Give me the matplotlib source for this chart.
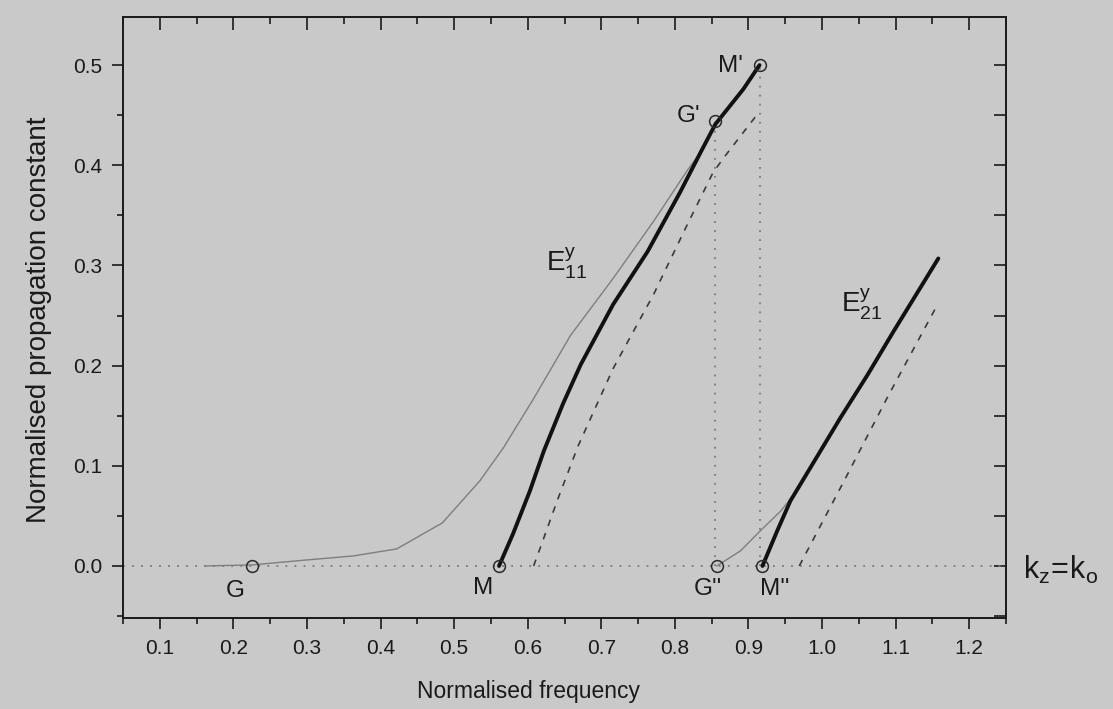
import matplotlib
matplotlib.use("Agg")
import matplotlib.pyplot as plt
from matplotlib.ticker import MultipleLocator

plt.rcParams['font.family'] = ['Liberation Sans', 'DejaVu Sans']
plt.rcParams['mathtext.fontset'] = 'custom'
plt.rcParams['mathtext.rm'] = 'Liberation Sans'
plt.rcParams['mathtext.it'] = 'Liberation Sans'

# E11 branch, thin grey curve (G -> G')
grey11_x = [0.161, 0.225, 0.300, 0.363, 0.422, 0.484, 0.535, 0.567, 0.608, 0.658, 0.716, 0.771, 0.817, 0.835]
grey11_y = [0.000, 0.001, 0.006, 0.010, 0.017, 0.043, 0.085, 0.118, 0.167, 0.230, 0.287, 0.344, 0.395, 0.413]

# E11 branch, thick curve (M -> M')
thick11_x = [0.561, 0.580, 0.603, 0.622, 0.648, 0.672, 0.716, 0.763, 0.807, 0.835, 0.855, 0.893, 0.915]
thick11_y = [0.000, 0.032, 0.075, 0.115, 0.162, 0.201, 0.261, 0.314, 0.373, 0.413, 0.441, 0.476, 0.500]

# E11 branch, dashed curve
dash11_x = [0.608, 0.617, 0.640, 0.668, 0.716, 0.771, 0.817, 0.852, 0.869, 0.909]
dash11_y = [0.000, 0.018, 0.065, 0.119, 0.197, 0.271, 0.341, 0.393, 0.410, 0.448]

# E21 branch
grey21_x = [0.857, 0.889, 0.916, 0.944, 0.957]
grey21_y = [0.000, 0.015, 0.035, 0.055, 0.067]

thick21_x = [0.919, 0.939, 0.957, 0.998, 1.025, 1.062, 1.097, 1.158]
thick21_y = [0.000, 0.035, 0.065, 0.115, 0.148, 0.191, 0.234, 0.307]

dash21_x = [0.969, 1.030, 1.090, 1.154]
dash21_y = [0.000, 0.085, 0.170, 0.257]

# marked points and their labels
pt_names = ['G', 'M', "G'", "M'", "G''", "M''"]
pt_x = [0.225, 0.561, 0.855, 0.915, 0.857, 0.919]
pt_y = [0.000, 0.000, 0.444, 0.500, 0.000, 0.000]
lab_x = [0.202, 0.539, 0.818, 0.875, 0.845, 0.936]
lab_y = [-0.025, -0.022, 0.449, 0.499, -0.023, -0.023]

x_ticks = [0.1, 0.2, 0.3, 0.4, 0.5, 0.6, 0.7, 0.8, 0.9, 1.0, 1.1, 1.2]
x_labels = ['0.1', '0.2', '0.3', '0.4', '0.5', '0.6', '0.7', '0.8', '0.9', '1.0', '1.1', '1.2']
y_ticks = [0.0, 0.1, 0.2, 0.3, 0.4, 0.5]
y_labels = ['0.0', '0.1', '0.2', '0.3', '0.4', '0.5']

bg = '#c9c9c9'
ink = '#1a1a1a'
fig = plt.figure(figsize=(11.13, 7.09), dpi=100, facecolor=bg)
ax = fig.add_axes([0.1105, 0.1283, 0.7934, 0.8477])
ax.set_facecolor(bg)

# kz = k0 line and cut-off verticals
dots = dict(color='#7a7a7a', lw=1.3, ls=(0, (1, 4)), zorder=1)
ax.axhline(0.0, **dots)
ax.plot([pt_x[2], pt_x[2]], [0.0, pt_y[2]], **dots)
ax.plot([pt_x[3], pt_x[3]], [0.0, pt_y[3]], **dots)

ax.plot(grey11_x, grey11_y, color='#7e7e7e', lw=1.0, zorder=2)
ax.plot(grey21_x, grey21_y, color='#7e7e7e', lw=1.0, zorder=2)
ax.plot(dash11_x, dash11_y, color='#3a3a3a', lw=1.2, ls=(0, (4, 4.5)), zorder=2)
ax.plot(dash21_x, dash21_y, color='#3a3a3a', lw=1.2, ls=(0, (4, 4.5)), zorder=2)
ax.plot(thick11_x, thick11_y, color='#111111', lw=2.8, solid_capstyle='round', zorder=3)
ax.plot(thick21_x, thick21_y, color='#111111', lw=2.8, solid_capstyle='round', zorder=3)

ax.plot(pt_x, pt_y, ls='none', marker='o', ms=8.5, mfc='none', mec='#2a2a2a', mew=1.1, zorder=4)
for name, x, y in zip(pt_names, lab_x, lab_y):
    ax.text(x, y, name, fontsize=17.5, color=ink, ha='center', va='center')

ax.text(0.653, 0.302, r'$\mathregular{E_{11}^{y}}$', fontsize=20, color=ink, ha='center', va='center')
ax.text(1.054, 0.261, r'$\mathregular{E_{21}^{y}}$', fontsize=20, color=ink, ha='center', va='center')
ax.text(1.273, -0.013, r'$\mathregular{k_z\!=\!k_o}$', fontsize=22, color=ink,
        ha='left', va='baseline', clip_on=False)

ax.set_xlim(0.05, 1.25)
ax.set_ylim(-0.052, 0.548)
ax.set_xticks(x_ticks)
ax.set_xticklabels(x_labels)
ax.set_yticks(y_ticks)
ax.set_yticklabels(y_labels)
ax.xaxis.set_minor_locator(MultipleLocator(0.05))
ax.yaxis.set_minor_locator(MultipleLocator(0.05))

ax.tick_params(which='both', direction='out', top=False, right=False, colors=ink,
               labelsize=15, width=1.2)
ax.tick_params(which='major', length=8, pad=7)
ax.tick_params(which='minor', length=4)

# inward ticks on the top and right edges
sec_x = ax.secondary_xaxis('top')
sec_x.set_xticks(x_ticks)
sec_x.xaxis.set_minor_locator(MultipleLocator(0.05))
sec_x.tick_params(which='both', direction='in', labeltop=False, width=1.2, colors=ink)
sec_x.tick_params(which='major', length=9)
sec_x.tick_params(which='minor', length=5)
sec_y = ax.secondary_yaxis('right')
sec_y.set_yticks(y_ticks)
sec_y.yaxis.set_minor_locator(MultipleLocator(0.05))
sec_y.tick_params(which='both', direction='in', labelright=False, width=1.2, length=9, colors=ink)

for sp in ax.spines.values():
    sp.set_linewidth(1.4)
    sp.set_color(ink)
sec_x.spines['top'].set_visible(False)
sec_y.spines['right'].set_visible(False)

ax.set_xlabel('Normalised frequency', fontsize=16.5, color=ink)
ax.xaxis.set_label_coords(0.459, -0.103)
ax.set_ylabel('Normalised propagation constant', fontsize=20, color=ink)
ax.yaxis.set_label_coords(-0.080, 0.497)

fig.savefig('out.png', dpi=100, facecolor=bg)
